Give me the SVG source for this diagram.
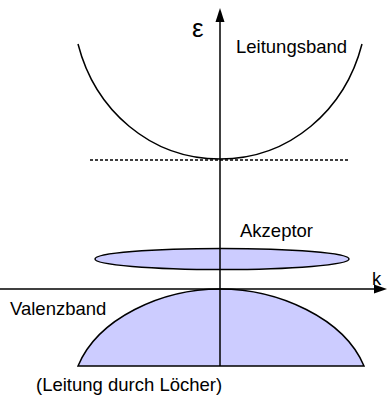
<svg xmlns="http://www.w3.org/2000/svg" width="388" height="408" viewBox="0 0 388 408">
<style>
text{font-family:"Liberation Sans",Arial,sans-serif;font-size:18.5px;fill:#000}
text.eps{font-size:26px}
.ln{fill:none;stroke:#000;stroke-width:1.5}
.band{fill:#ccccff;stroke:#000;stroke-width:1.5}
</style>
<rect width="388" height="408" fill="#fff"/>
<g id="valenzband">
<path class="band" d="M78,366 C98,318 162,289 220,289 C278,289 344,318 364,366 Z"/>
</g>
<g id="akzeptor">
<ellipse class="band" cx="222" cy="259" rx="127" ry="10.5"/>
</g>
<g id="leitungsband">
<path class="ln" d="M78,44 C95,110 150,159 220,159 C290,159 345,110 362,44"/>
<line x1="90" y1="160" x2="348" y2="160" stroke="#000" stroke-width="1.3" stroke-dasharray="3,2"/>
</g>
<g id="axes">
<line class="ln" x1="220" y1="20" x2="220" y2="366"/>
<polygon points="220,8 215.5,22 224.5,22" fill="#000"/>
<line class="ln" x1="0" y1="289" x2="376" y2="289"/>
<polygon points="387,289 374,284.5 374,293.5" fill="#000"/>
</g>
<g id="labels">
<text class="eps" x="192" y="37">ε</text>
<text x="236" y="53">Leitungsband</text>
<text x="240" y="237">Akzeptor</text>
<text x="372" y="285">k</text>
<text x="10" y="315">Valenzband</text>
<text x="36" y="391">(Leitung durch Löcher)</text>
</g>
</svg>
